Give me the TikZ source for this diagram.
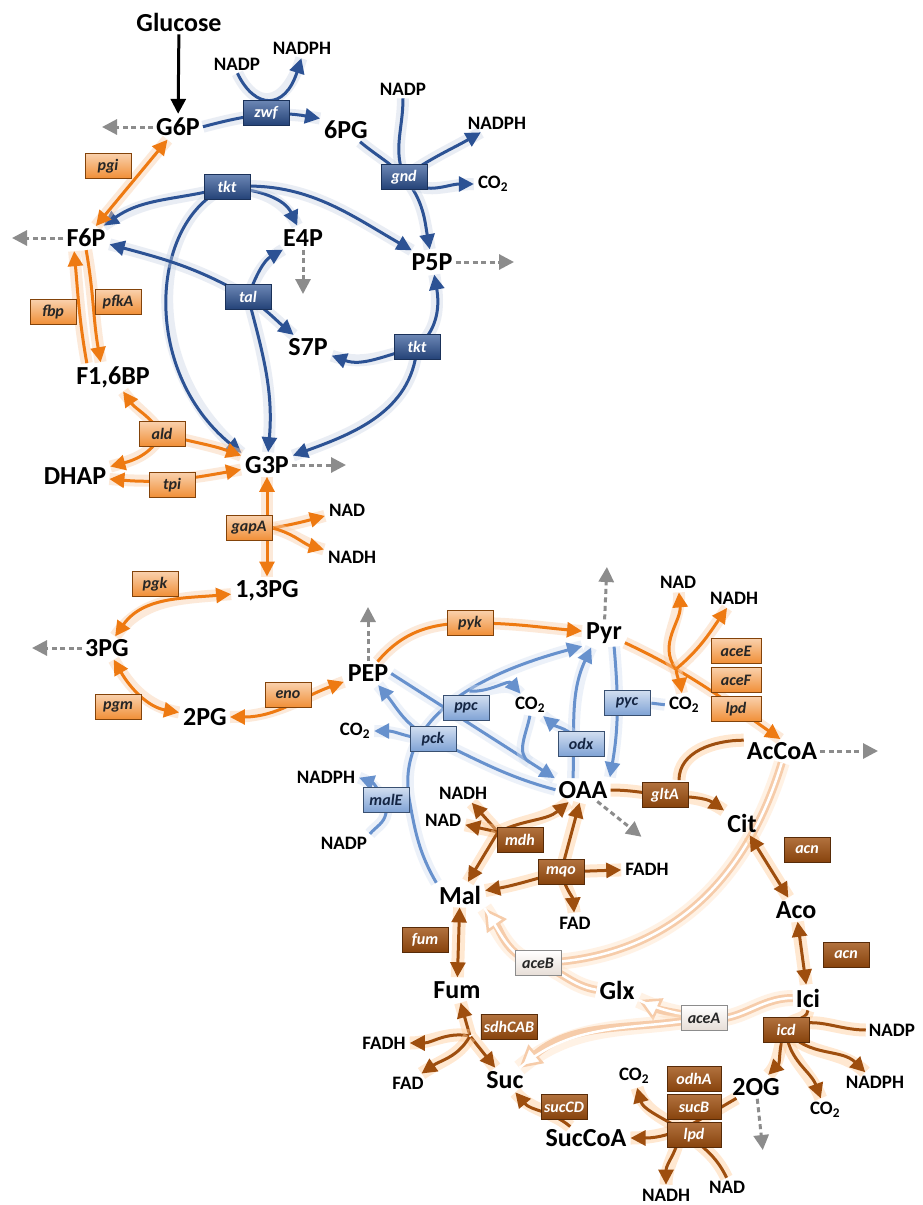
\documentclass[tikz,border=0pt]{standalone}
\usepackage{fontspec}
\setmainfont{Carlito}
\usetikzlibrary{arrows.meta,backgrounds}

\definecolor{pppblue}{RGB}{44,82,148}
\definecolor{anablue}{RGB}{103,145,205}
\definecolor{glyorange}{RGB}{238,122,18}
\definecolor{tcabrown}{RGB}{158,78,14}
\definecolor{shuntpeach}{RGB}{246,204,170}
\definecolor{draingray}{RGB}{140,140,140}

\tikzset{shorten > = 2pt,shorten < = 1pt,
	>={Triangle[length=15pt,width=15pt]},
	met/.style={font=\fontsize{26}{28}\selectfont\bfseries,inner sep=2pt},
	cof/.style={font=\fontsize{19}{21}\selectfont\bfseries,inner sep=2pt},
	enz/.style={font=\fontsize{16}{18}\selectfont\bfseries\itshape,minimum width=46pt,minimum height=25pt,inner sep=3pt,line width=.8pt},
	ppp/.style={enz,draw=pppblue!60!black,top color=pppblue!70!white,bottom color=pppblue!80!black,text=white},
	ana/.style={enz,draw=anablue!55!black,top color=anablue!30!white,bottom color=anablue!85!white,text=pppblue!45!black},
	gly/.style={enz,draw=glyorange!55!black,top color=glyorange!35!white,bottom color=glyorange!85!white,text=black!85},
	tca/.style={enz,draw=tcabrown!55!black,top color=tcabrown!80!white,bottom color=tcabrown!85!black,text=white},
	shu/.style={enz,draw=black!45,top color=white,bottom color=shuntpeach!70!black!30,text=black!85},
	pppflux/.style={draw=pppblue,line width=3pt,preaction={draw=pppblue!25,line width=12pt,opacity=.4,-}},
	anaflux/.style={draw=anablue,line width=3pt,preaction={draw=anablue!30,line width=12pt,opacity=.4,-}},
	glyflux/.style={draw=glyorange,line width=3pt,preaction={draw=glyorange!35,line width=12pt,opacity=.45,-}},
	tcaflux/.style={draw=tcabrown,line width=3pt,preaction={draw=orange!40,line width=13pt,opacity=.45,-}},
	shuntflux/.style={draw=shuntpeach,line width=8pt,-{Triangle[length=22pt,width=24pt,fill=white,line width=2.5pt]},
		preaction={draw=orange!25,line width=16pt,opacity=.4,-},postaction={draw=white,line width=2.5pt,-}},
	drain/.style={draw=draingray,line width=3pt,dash pattern=on 5pt off 3.5pt,-{Triangle[length=15pt,width=15pt]}}}

\begin{document}
\begin{tikzpicture}[x=1pt,y=1pt]
	\useasboundingbox (0,0) rectangle (922,-1205);

	\node[met] (Glc) at (179,-22) {Glucose};
	\node[met] (G6P) at (178,-127) {G6P};
	\node[met] (PG6) at (346,-130) {6PG};
	\node[met] (F6P) at (86,-238) {F6P};
	\node[met] (E4P) at (303,-238) {E4P};
	\node[met] (P5P) at (432,-262) {P5P};
	\node[met] (S7P) at (308,-347) {S7P};
	\node[met] (F16BP) at (113,-377) {F1,6BP};
	\node[met] (DHAP) at (75,-476) {DHAP};
	\node[met] (G3P) at (267,-465) {G3P};
	\node[met] (PG13) at (267,-591) {1,3PG};
	\node[met] (PG3) at (107,-648) {3PG};
	\node[met] (PG2) at (205,-717) {2PG};
	\node[met] (PEP) at (368,-673) {PEP};
	\node[met] (Pyr) at (604,-633) {Pyr};
	\node[met] (AcCoA) at (782,-751) {AcCoA};
	\node[met] (OAA) at (583,-790) {OAA};
	\node[met] (Cit) at (742,-823) {Cit};
	\node[met] (Mal) at (460,-895) {Mal};
	\node[met] (Aco) at (796,-910) {Aco};
	\node[met] (Fum) at (457,-990) {Fum};
	\node[met] (Glx) at (617,-990) {Glx};
	\node[met] (Ici) at (808,-998) {Ici};
	\node[met] (Suc) at (505,-1080) {Suc};
	\node[met] (OG) at (756,-1087) {2OG};
	\node[met] (SucCoA) at (586,-1138) {SucCoA};

	\node[cof] (nadpA) at (237,-64) {NADP};
	\node[cof] (nadphA) at (302,-48) {NADPH};
	\node[cof] (nadpB) at (403,-89) {NADP};
	\node[cof] (nadphB) at (497,-123) {NADPH};
	\node[cof] (co2A) at (493,-184) {CO\textsubscript{2}};
	\node[cof] (nadA) at (347,-510) {NAD};
	\node[cof] (nadhA) at (352,-557) {NADH};
	\node[cof] (nadB) at (678,-582) {NAD};
	\node[cof] (nadhB) at (734,-598) {NADH};
	\node[cof] (co2B) at (684,-705) {CO\textsubscript{2}};
	\node[cof] (co2C) at (530,-705) {CO\textsubscript{2}};
	\node[cof] (co2D) at (355,-731) {CO\textsubscript{2}};
	\node[cof] (nadphC) at (326,-777) {NADPH};
	\node[cof] (nadpC) at (344,-843) {NADP};
	\node[cof] (nadhC) at (463,-793) {NADH};
	\node[cof] (nadC) at (443,-820) {NAD};
	\node[cof] (fadhA) at (647,-869) {FADH};
	\node[cof] (fadA) at (575,-923) {FAD};
	\node[cof] (nadpD) at (892,-1030) {NADP};
	\node[cof] (nadphD) at (875,-1082) {NADPH};
	\node[cof] (co2E) at (825,-1110) {CO\textsubscript{2}};
	\node[cof] (fadhB) at (384,-1043) {FADH};
	\node[cof] (fadB) at (408,-1083) {FAD};
	\node[cof] (co2F) at (634,-1076) {CO\textsubscript{2}};
	\node[cof] (nadhD) at (666,-1195) {NADH};
	\node[cof] (nadD) at (727,-1187) {NAD};

	\node[ppp] (zwf) at (266,-113) {zwf};
	\node[ppp] (gnd) at (404,-177) {gnd};
	\node[ppp] (tktA) at (227,-187) {tkt};
	\node[ppp] (tal) at (248,-297) {tal};
	\node[ppp] (tktB) at (417,-347) {tkt};
	\node[gly] (pgi) at (108,-166) {pgi};
	\node[gly] (fbp) at (53,-312) {fbp};
	\node[gly] (pfkA) at (118,-302) {pfkA};
	\node[gly] (ald) at (162,-434) {ald};
	\node[gly] (tpi) at (172,-485) {tpi};
	\node[gly] (gapA) at (249,-528) {gapA};
	\node[gly] (pgk) at (155,-584) {pgk};
	\node[gly] (pgm) at (118,-707) {pgm};
	\node[gly] (eno) at (288,-695) {eno};
	\node[gly] (pyk) at (470,-623) {pyk};
	\node[gly,minimum width=50pt] (aceE) at (736,-651) {aceE};
	\node[gly,minimum width=50pt] (aceF) at (736,-680) {aceF};
	\node[gly,minimum width=50pt] (lpdA) at (736,-709) {lpd};
	\node[ana] (ppc) at (466,-708) {ppc};
	\node[ana] (pck) at (433,-739) {pck};
	\node[ana] (odx) at (581,-744) {odx};
	\node[ana] (pyc) at (627,-703) {pyc};
	\node[ana] (malE) at (386,-800) {malE};
	\node[tca] (gltA) at (665,-795) {gltA};
	\node[tca] (mdh) at (520,-840) {mdh};
	\node[tca] (mqo) at (561,-872) {mqo};
	\node[tca] (acnA) at (807,-850) {acn};
	\node[tca] (acnB) at (846,-955) {acn};
	\node[tca] (fum) at (425,-940) {fum};
	\node[shu] (aceB) at (538,-963) {aceB};
	\node[shu] (aceA) at (704,-1018) {aceA};
	\node[tca] (icd) at (786,-1030) {icd};
	\node[tca] (sdh) at (509,-1027) {sdhCAB};
	\node[tca] (sucCD) at (564,-1107) {sucCD};
	\node[tca,minimum width=54pt] (odhA) at (694,-1079) {odhA};
	\node[tca,minimum width=54pt] (sucB) at (694,-1107) {sucB};
	\node[tca,minimum width=54pt] (lpdB) at (694,-1135) {lpd};

	\coordinate (G6P-out) at (100,-127);
	\coordinate (F6P-out) at (10,-238);
	\coordinate (E4P-out) at (303,-296);
	\coordinate (P5P-out) at (516,-262);
	\coordinate (G3P-out) at (348,-465);
	\coordinate (PG3-out) at (30,-648);
	\coordinate (PEP-out) at (368,-605);
	\coordinate (Pyr-out) at (607,-565);
	\coordinate (AcCoA-out) at (880,-751);
	\coordinate (OAA-out) at (643,-838);
	\coordinate (OG-out) at (763,-1152);
	\coordinate (mdh-j) at (498,-832);
	\coordinate (sdh-j) at (470,-1036);

	\begin{scope}[on background layer]
	\fill[white] (0,0) rectangle (922,-1205);

	\draw[shuntflux] (AcCoA.south) .. controls (740,-900) and (650,-960) .. (aceB.center) to[out=170,in=-55] (Mal.south east);
	\draw[shuntflux,-] (Glx.west) to[out=170,in=-20] (aceB.center);
	\draw[shuntflux] (Ici.west) to[out=180,in=-10] (aceA.center) to[out=170,in=-25] (Glx);
	\draw[shuntflux] (aceA.center) to[out=190,in=40] (Suc);

	\foreach \m in {G6P,F6P,E4P,P5P,G3P,PG3,PEP,Pyr,AcCoA,OAA,OG}
		\draw[drain] (\m) -- (\m-out);

	\draw[->,line width=3pt] (Glc) -- (G6P);

	\draw[pppflux,->] (G6P.east) to[out=15,in=170] (PG6.north west);
	\draw[pppflux,->] (nadpA.south) .. controls (255,-110) and (285,-110) .. (nadphA.south);
	\draw[pppflux,->] (PG6) to[out=-40,in=135] (gnd.center) to[out=-50,in=100] (P5P);
	\draw[pppflux] (nadpB) to[out=-90,in=110] (gnd.center);
	\draw[pppflux,->] (gnd.center) to[out=35,in=-150] (nadphB);
	\draw[pppflux,->] (gnd.center) to[out=-45,in=180] (co2A);
	\draw[pppflux,->] (tktA.center) to[out=195,in=35] (F6P);
	\draw[pppflux,->] (tktA.center) to[out=-5,in=115] (E4P);
	\draw[pppflux,->] (tktA.center) to[out=5,in=150] (P5P);
	\draw[pppflux,->] (tktA.center) .. controls (150,-220) and (140,-370) .. (G3P.north west);
	\draw[pppflux,->] (tal.center) to[out=150,in=-15] (F6P);
	\draw[pppflux,->] (tal.center) to[out=70,in=-150] (E4P);
	\draw[pppflux,->] (tal.center) to[out=-35,in=140] (S7P);
	\draw[pppflux,->] (tal.center) to[out=-75,in=85] (G3P);
	\draw[pppflux,->] (tktB.center) to[out=195,in=-20] (S7P);
	\draw[pppflux,->] (tktB.center) to[out=40,in=-80] (P5P);
	\draw[pppflux,->] (tktB.center) to[out=-95,in=20] (G3P);

	\draw[glyflux,<->] (F6P) -- (G6P);
	\draw[glyflux,->] (F6P.south) to[out=-80,in=100] ([xshift=-12pt]F16BP.north);
	\draw[glyflux,->] ([xshift=-26pt]F16BP.north) to[out=100,in=-85] ([xshift=-12pt]F6P.south);
	\draw[glyflux,->] (ald.center) to[out=125,in=-55] (F16BP);
	\draw[glyflux,->] (ald.center) to[out=-15,in=160] (G3P);
	\draw[glyflux,->] (ald.center) to[out=-120,in=15] (DHAP);
	\draw[glyflux,<->] (DHAP) to[out=-5,in=190] (G3P);
	\draw[glyflux,<->] (G3P) -- (PG13);
	\draw[glyflux,->] (gapA.east) to[out=10,in=195] (nadA);
	\draw[glyflux,->] (gapA.east) to[out=-15,in=165] (nadhA);
	\draw[glyflux,<->] (PG3) to[out=55,in=185] (PG13);
	\draw[glyflux,<->] (PG3) to[out=-60,in=170] (PG2);
	\draw[glyflux,<->] (PG2) to[out=0,in=200] (PEP);
	\draw[glyflux,->] (PEP) to[out=50,in=180] (pyk.center) to[out=0,in=175] (Pyr);
	\draw[glyflux,->] (Pyr) to[out=-25,in=145] coordinate[pos=.3](pdh-j) (AcCoA.north);
	\draw[glyflux,->] (pdh-j) to[out=125,in=-85] (nadB);
	\draw[glyflux,->] (pdh-j) to[out=40,in=-125] (nadhB);
	\draw[glyflux,->] (pdh-j) to[out=-80,in=100] (co2B);

	\draw[anaflux,->] (Mal.north west) to[out=120,in=-80] (malE.east) to[out=100,in=195] coordinate[pos=.55](malE-j) (Pyr.south west);
	\draw[anaflux,->] (malE-j) to[out=-5,in=130] (co2C);
	\draw[anaflux,->] (nadpC.north east) to[out=50,in=-100] (malE.south) to[out=100,in=-20] (nadphC.east);
	\draw[anaflux,->] (PEP.east) -- coordinate[pos=.85](ppc-j) (OAA.north west);
	\draw[anaflux] (co2C.south) to[out=-100,in=150] (ppc-j);
	\draw[anaflux,->] (OAA.west) to[out=165,in=-25] (pck.center) to[out=155,in=-50] (PEP);
	\draw[anaflux,->] (pck.center) to[out=180,in=0] (co2D);
	\draw[anaflux,->] ([xshift=10pt]Pyr.south) to[out=-85,in=80] (OAA.north east);
	\draw[anaflux] (pyc.east) -- (co2B.west);
	\draw[anaflux,->] ([xshift=-10pt]OAA.north) to[out=88,in=-115] ([xshift=-12pt]Pyr.south);
	\draw[anaflux,->] (odx.center) to[out=125,in=-40] (co2C);

	\draw[tcaflux,->] (OAA.east) to[out=0,in=175] (gltA.center) to[out=-5,in=145] (Cit);
	\draw[tcaflux] (AcCoA.north west) to[out=180,in=90] ([xshift=14pt]gltA.north);
	\draw[tcaflux,->] (mdh-j) -- (nadhC);
	\draw[tcaflux,->] (mdh-j) -- (nadC);
	\draw[tcaflux,->] (mdh-j) -- (Mal);
	\draw[tcaflux,->] (mdh-j) to[out=25,in=-140] (OAA);
	\draw[tcaflux,->] (mqo.center) -- (OAA);
	\draw[tcaflux,->] (mqo.center) -- (fadhA);
	\draw[tcaflux,->] (mqo.center) to[out=-75,in=95] (fadA);
	\draw[tcaflux,->] (mqo.center) to[out=195,in=10] (Mal);
	\draw[tcaflux,<->] (Mal) -- (Fum);
	\draw[tcaflux,<->] (Cit) -- (Aco);
	\draw[tcaflux,<->] (Aco) -- (Ici);
	\draw[tcaflux] (Ici.south) to[out=-95,in=80] (icd.center);
	\draw[tcaflux] (nadpD.west) to[out=180,in=30] (icd.center);
	\draw[tcaflux,->] (icd.center) to[out=-115,in=45] (OG);
	\draw[tcaflux,->] (icd.center) to[out=-85,in=110] (co2E);
	\draw[tcaflux,->] (icd.center) to[out=-50,in=135] (nadphD);
	\draw[tcaflux,->] (OG) to[out=-150,in=0] coordinate[pos=.55](odh-j) (SucCoA);
	\draw[tcaflux,->] (odh-j) to[out=150,in=-75] (co2F);
	\draw[tcaflux,->] (odh-j) to[out=-95,in=90] (nadhD);
	\draw[tcaflux] (nadD.north) to[out=115,in=-40] (odh-j);
	\draw[tcaflux,->] ([xshift=-15pt]SucCoA.north) to[out=140,in=-50] (Suc);
	\draw[tcaflux,->] (sdh-j) -- (Fum);
	\draw[tcaflux,->] (sdh-j) -- (Suc);
	\draw[tcaflux,->] (sdh-j) to[out=170,in=0] (fadhB);
	\draw[tcaflux,->] (sdh-j) to[out=-120,in=35] (fadB);
	\end{scope}
\end{tikzpicture}
\end{document}
